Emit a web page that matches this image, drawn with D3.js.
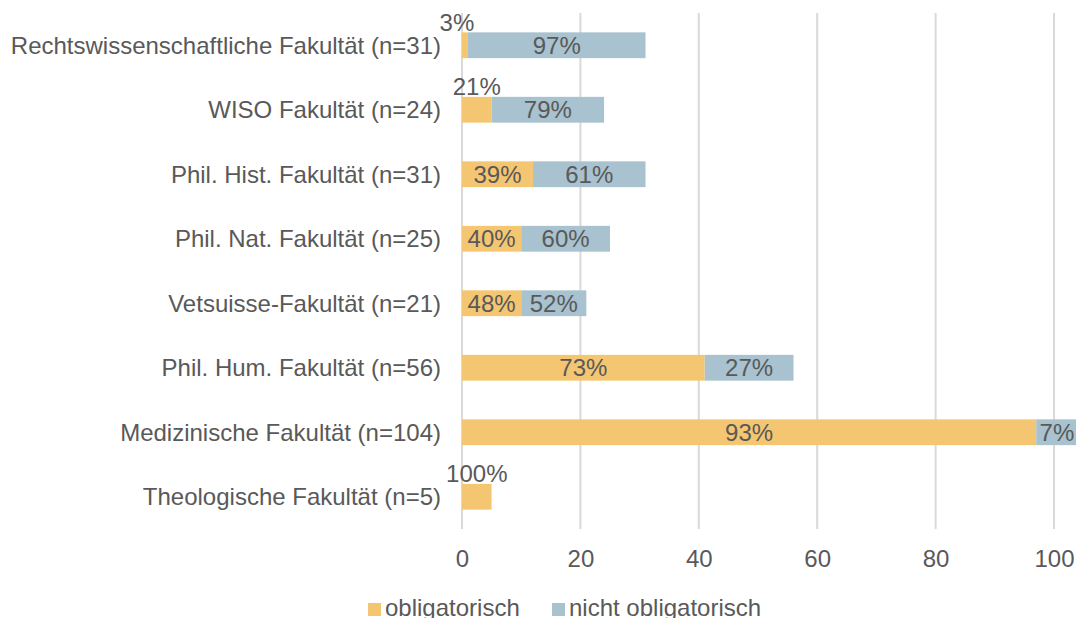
<!DOCTYPE html>
<html>
<head>
<meta charset="utf-8">
<script src="https://cdn.jsdelivr.net/npm/d3@7"></script>
<style>
  body { margin: 0; background: #fff; }
  #vis { width: 1076px; height: 618px; overflow: hidden; }
  text { font-family: "Liberation Sans", Arial, sans-serif; fill: #595959; }
</style>
</head>
<body>
<div id="vis"></div>
<script>
var faculties = ['Rechtswissenschaftliche Fakultät (n=31)', 'WISO Fakultät (n=24)', 'Phil. Hist. Fakultät (n=31)',
    'Phil. Nat. Fakultät (n=25)', 'Vetsuisse-Fakultät (n=21)', 'Phil. Hum. Fakultät (n=56)',
    'Medizinische Fakultät (n=104)', 'Theologische Fakultät (n=5)'];
// counts per faculty
var obligatorisch = [1, 5, 12, 10, 10, 41, 97, 5];
var nichtObligatorisch = [30, 19, 19, 15, 11, 15, 7, 0];
// percent labels as shown
var pctOblig = ['3%', '21%', '39%', '40%', '48%', '73%', '93%', '100%'];
var pctNicht = ['97%', '79%', '61%', '60%', '52%', '27%', '7%', ''];
var xTicks = [0, 20, 40, 60, 80, 100];
var seriesNames = ['obligatorisch', 'nicht obligatorisch'];
var seriesColours = ['#F5C672', '#A8C2CF'];

var width = 1076, height = 618;
var margin = { top: 13, bottom: 89, left: 462, right: 0 };

var svg = d3.select('#vis')
    .append('svg')
    .attr('width', width)
    .attr('height', height);

var x_scale = d3.scaleLinear()
    .domain([0, 104])
    .range([margin.left, margin.left + 104 * 5.92]);

var y_scale = d3.scaleBand()
    .domain(faculties)
    .range([margin.top, height - margin.bottom])
    .paddingInner(0.6)
    .paddingOuter(0.3);

// grid
svg.append('g')
    .selectAll('line')
    .data(xTicks)
    .enter()
    .append('line')
    .attr('x1', d => x_scale(d))
    .attr('x2', d => x_scale(d))
    .attr('y1', margin.top)
    .attr('y2', height - margin.bottom)
    .attr('stroke', '#d9d9d9')
    .attr('stroke-width', 2);

var rows = faculties.map(function(f, i) {
    return { name: f, a: obligatorisch[i], b: nichtObligatorisch[i], la: pctOblig[i], lb: pctNicht[i] };
});

var bh = y_scale.bandwidth();

svg.append('g')
    .selectAll('rect')
    .data(rows)
    .enter()
    .append('rect')
    .attr('x', d => x_scale(0))
    .attr('y', d => y_scale(d.name))
    .attr('width', d => x_scale(d.a) - x_scale(0))
    .attr('height', bh)
    .attr('fill', seriesColours[0]);

svg.append('g')
    .selectAll('rect')
    .data(rows.filter(d => d.b > 0))
    .enter()
    .append('rect')
    .attr('x', d => x_scale(d.a))
    .attr('y', d => y_scale(d.name))
    .attr('width', d => x_scale(d.a + d.b) - x_scale(d.a))
    .attr('height', bh)
    .attr('fill', seriesColours[1]);

// labels: inside when segment is wide enough, else above the bar
var fs = 24;
function segLabel(d, start, len, txt) {
    var cx = (x_scale(start) + x_scale(start + len)) / 2;
    var w = x_scale(start + len) - x_scale(start);
    var g = svg.append('text')
        .attr('font-size', fs)
        .attr('text-anchor', 'middle')
        .text(txt);
    var tw = g.node().getComputedTextLength();
    if (w >= tw || start + len >= 100) {
        g.attr('x', cx).attr('y', y_scale(d.name) + bh / 2).attr('dy', '0.36em');
    } else {
        // very thin slivers get nudged left like excel does
        g.attr('x', w < 10 ? cx - 8 : cx).attr('y', y_scale(d.name) - 1.5);
    }
}
rows.forEach(function(d) {
    segLabel(d, 0, d.a, d.la);
    if (d.b > 0) segLabel(d, d.a, d.b, d.lb);
});

// y labels
svg.append('g')
    .selectAll('text')
    .data(faculties)
    .enter()
    .append('text')
    .attr('x', 441)
    .attr('y', d => y_scale(d) + bh / 2)
    .attr('dy', '0.36em')
    .attr('text-anchor', 'end')
    .attr('font-size', fs)
    .text(d => d);

// x axis labels
var x_axis = d3.axisBottom(x_scale).tickValues(xTicks).tickSize(0).tickPadding(0);
var ax = svg.append('g')
    .attr('transform', 'translate(0,' + (height - margin.bottom + 21) + ')')
    .call(x_axis);
ax.select('.domain').remove();
ax.selectAll('text')
    .attr('font-size', fs)
    .attr('font-family', '"Liberation Sans", Arial, sans-serif')
    .attr('fill', '#595959');

// legend
var legX = [368, 552];
var leg = svg.append('g')
    .selectAll('g')
    .data(seriesNames)
    .enter()
    .append('g')
    .attr('transform', (d, i) => 'translate(' + legX[i] + ',' + 603 + ')');
leg.append('rect')
    .attr('width', 13)
    .attr('height', 13)
    .attr('fill', (d, i) => seriesColours[i]);
leg.append('text')
    .attr('x', 17)
    .attr('y', 13)
    .attr('font-size', fs)
    .text(d => d);
</script>
</body>
</html>
